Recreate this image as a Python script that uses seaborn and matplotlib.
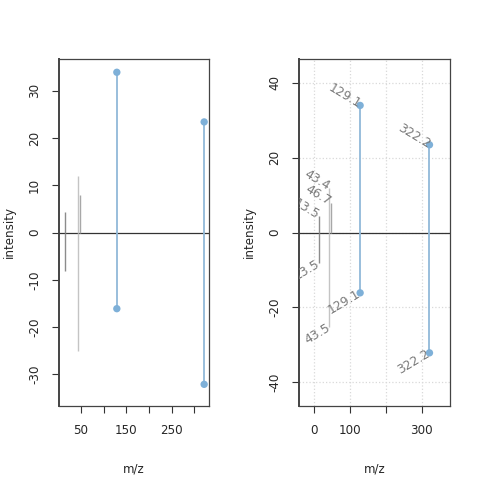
import matplotlib
matplotlib.use("Agg")
import matplotlib.pyplot as plt
import seaborn as sns
import pandas as pd

# top spectrum
top_mz = [13.5, 43.4, 46.7, 129.1, 322.2]
top_int = [4.3, 12.0, 8.0, 33.9, 23.4]
top_match = [False, False, False, True, True]
# bottom spectrum (mirrored)
bot_mz = [13.5, 43.5, 129.1, 322.2]
bot_int = [-8.1, -25.1, -16.1, -32.1]
bot_match = [False, False, True, True]

line_grays = {"top": ["#8c8c8c", "#c4c4c4", "#a8a8a8"], "bot": ["#8c8c8c", "#c4c4c4"]}
blue = "#7eb0d8"
blue_line = "#91b9d9"

sns.set_style("white")
plt.rcParams["font.family"] = ["DejaVu Sans"]

fig = plt.figure(figsize=(4.8, 4.8), dpi=100)
ax1 = fig.add_axes([0.123, 0.154, 0.3125, 0.724])
ax2 = fig.add_axes([0.623, 0.154, 0.3135, 0.724])

top = pd.DataFrame({"mz": top_mz, "intensity": top_int, "match": top_match})
bot = pd.DataFrame({"mz": bot_mz, "intensity": bot_int, "match": bot_match})


def draw(ax, labels):
    ax.axhline(0, color="#333333", lw=0.9, zorder=1)
    for df, grays in ((top, line_grays["top"]), (bot, line_grays["bot"])):
        un = df[~df["match"]]
        ax.vlines(un["mz"], 0, un["intensity"], colors=grays, lw=1, zorder=2)
        m = df[df["match"]]
        ax.vlines(m["mz"], 0, m["intensity"], colors=blue_line, lw=1.3, zorder=2)
        sns.scatterplot(data=m, x="mz", y="intensity", ax=ax, color=blue,
                        s=28, edgecolor="none", zorder=3, legend=False)
        if labels:
            for x, y in zip(df["mz"], df["intensity"]):
                rot = -31 if y > 0 else 31
                ax.text(x - 1, y, f"{x:.1f}", rotation=rot, rotation_mode="anchor",
                        ha="right", va="center", color="#7a7a7a", fontsize=9,
                        clip_on=True, zorder=4)
    ax.set_xlabel("m/z", fontsize=8.6, labelpad=18)
    ax.set_ylabel("intensity", fontsize=8.6, labelpad=9)
    ax.tick_params(axis="both", direction="out", length=5, width=0.8,
                   color="#333333", labelsize=8.6, pad=8, left=True, bottom=True)
    for s in ax.spines.values():
        s.set_color("#444444")
        s.set_linewidth(0.9)
    ax.spines["left"].set_linewidth(1.4)


draw(ax1, labels=False)
ax1.set_xlim(1.3, 333)
ax1.set_ylim(-36.7, 36.8)
ax1.set_xticks([50, 100, 150, 200, 250, 300])
ax1.set_xticklabels(["50", "", "150", "", "250", ""])
ax1.set_yticks([-30, -20, -10, 0, 10, 20, 30])
ax1.set_yticklabels(["-30", "-20", "-10", "0", "10", "20", "30"], rotation=90, va="center")

draw(ax2, labels=True)
ax2.set_xlim(-41, 378)
ax2.set_ylim(-46.3, 46.4)
ax2.set_xticks([0, 100, 200, 300])
ax2.set_xticklabels(["0", "100", "", "300"])
ax2.set_yticks([-40, -20, 0, 20, 40])
ax2.set_yticklabels(["-40", "-20", "0", "20", "40"], rotation=90, va="center")
ax2.grid(True, color="#d9d9d9", linestyle=":", lw=0.9)
ax2.set_axisbelow(True)

fig.savefig("out.png", dpi=100)
